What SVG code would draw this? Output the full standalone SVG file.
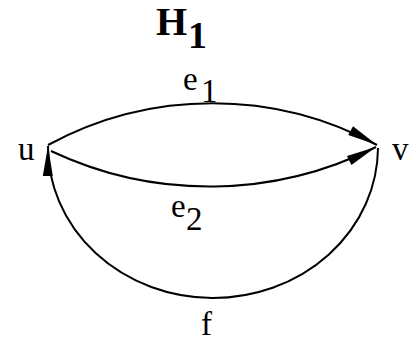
<svg xmlns="http://www.w3.org/2000/svg" width="418" height="343" viewBox="0 0 418 343">
<style>
.edge{fill:none;stroke:#000;stroke-width:2}
.lbl{font-family:"Liberation Serif","Times New Roman",serif;font-size:33px;fill:#000}
.title{font-family:"Liberation Serif","Times New Roman",serif;font-size:40px;font-weight:bold;fill:#000}
</style>
<defs>
<marker id="arr" viewBox="-31 -6 32 12" markerWidth="32" markerHeight="12" refX="0" refY="0" orient="auto" markerUnits="userSpaceOnUse">
<path d="M0,0 L-30,-5 L-30,5 Z" fill="#000"/>
</marker>
</defs>
<g id="title"><text class="title" x="156" y="35">H<tspan x="188" y="48" font-size="38">1</tspan></text></g>
<g id="connectors">
<path id="e1" class="edge" d="M48,145 A345 345 0 0 1 377,145" marker-end="url(#arr)"/>
<path id="e2" class="edge" d="M51,151 A371 371 0 0 0 376,147" marker-end="url(#arr)"/>
<path id="f" class="edge" d="M378,148 A165 151 0 0 1 48,146" marker-end="url(#arr)"/>
<text class="lbl" x="183" y="90">e<tspan x="201" y="102">1</tspan></text>
<text class="lbl" x="171" y="217">e<tspan x="186" y="230">2</tspan></text>
<text class="lbl" x="201" y="335" font-size="34">f</text>
</g>
<g id="node-u"><text class="lbl" x="18" y="160">u</text></g>
<g id="node-v"><text class="lbl" x="392" y="160">v</text></g>
</svg>
